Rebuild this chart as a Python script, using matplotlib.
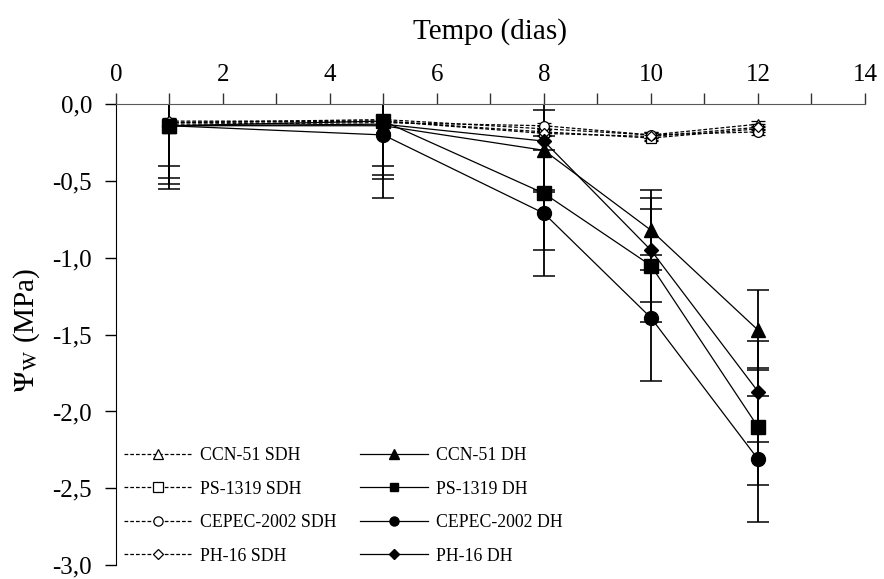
import matplotlib.pyplot as plt
from matplotlib.lines import Line2D
from matplotlib.ticker import MultipleLocator, FuncFormatter

plt.rcParams['font.family'] = ['Liberation Serif', 'DejaVu Serif']
plt.rcParams['mathtext.fontset'] = 'stix'

# Tempo (dias)
dias = [1, 5, 8, 10, 12]

# Potencial hidrico (MPa) - sem deficit hidrico (SDH)
ccn51_sdh = [-0.12, -0.10, -0.16, -0.20, -0.13]
ps1319_sdh = [-0.12, -0.11, -0.18, -0.22, -0.16]
cepec_sdh = [-0.13, -0.12, -0.14, -0.20, -0.18]
ph16_sdh = [-0.11, -0.11, -0.19, -0.21, -0.15]
sdh_err = [0.02, 0.02, 0.02, 0.02, 0.02]

# Potencial hidrico (MPa) - com deficit hidrico (DH)
ccn51_dh = [-0.14, -0.14, -0.30, -0.82, -1.47]
ps1319_dh = [-0.14, -0.11, -0.58, -1.05, -2.10]
cepec_dh = [-0.14, -0.20, -0.71, -1.39, -2.31]
ph16_dh = [-0.14, -0.13, -0.24, -0.95, -1.87]

ccn51_err = [0.26, 0.26, 0.26, 0.26, 0.26]
ps1319_err = [0.38, 0.38, 0.37, 0.37, 0.38]
cepec_err = [0.41, 0.41, 0.41, 0.41, 0.41]
ph16_err = [0.34, 0.33, 0.33, 0.34, 0.33]

fig = plt.figure(figsize=(8.84, 5.79), dpi=100)
ax = fig.add_axes([0.131, 0.024, 0.8475, 0.796])

sdh_dash = (0, (3, 1.6))
leg_handles = {}

# SDH: dashed lines with open markers
sdh = [
    ("CCN-51 SDH", ccn51_sdh, "^", 7),
    ("PS-1319 SDH", ps1319_sdh, "s", 7),
    ("CEPEC-2002 SDH", cepec_sdh, "o", 7),
    ("PH-16 SDH", ph16_sdh, "D", 5.5),
]
for label, vals, mk, ms in sdh:
    eb = ax.errorbar(dias, vals, yerr=sdh_err, color="black", lw=0.9,
                     linestyle=sdh_dash, marker=mk, ms=ms,
                     mfc="white", mec="black", mew=0.9,
                     ecolor="black", elinewidth=0.8, capsize=5, capthick=0.8)
    eb[2][0].set_linestyle("-")
    leg_handles[label] = Line2D([], [], color="black", lw=0.9, linestyle=sdh_dash,
                                marker=mk, ms=ms * 0.95, mfc="white", mec="black",
                                mew=0.9)

# DH: solid lines with filled markers
dh = [
    ("CCN-51 DH", ccn51_dh, ccn51_err, "^", 10),
    ("PS-1319 DH", ps1319_dh, ps1319_err, "s", 9.5),
    ("CEPEC-2002 DH", cepec_dh, cepec_err, "o", 10),
    ("PH-16 DH", ph16_dh, ph16_err, "D", 7.5),
]
for label, vals, err, mk, ms in dh:
    eb = ax.errorbar(dias, vals, yerr=err, color="black", lw=0.9,
                     linestyle="-", marker=mk, ms=ms,
                     mfc="black", mec="black",
                     ecolor="black", elinewidth=1.3, capsize=8, capthick=1.1)
    leg_handles[label] = Line2D([], [], color="black", lw=0.9, linestyle="-",
                                marker=mk, ms=ms * 0.65, mfc="black", mec="black")

ax.set_xlim(0, 14)
ax.set_ylim(-3, 0)

ax.spines["bottom"].set_visible(False)
ax.spines["right"].set_visible(False)
ax.spines["top"].set_color("0.35")

ax.xaxis.tick_top()
ax.xaxis.set_label_position("top")
ax.xaxis.set_major_locator(MultipleLocator(2))
ax.xaxis.set_minor_locator(MultipleLocator(1))
ax.yaxis.set_major_locator(MultipleLocator(0.5))
ax.yaxis.set_major_formatter(FuncFormatter(
    lambda v, p: ("%.1f" % v).replace(".", ",").replace("-0,0", "0,0")))

ax.tick_params(axis="x", which="both", direction="out", length=8, width=1,
               labelsize=18, pad=5, color="0.2")
ax.tick_params(axis="y", which="major", direction="out", length=8, width=1,
               labelsize=18, pad=9)

ax.set_xlabel("Tempo (dias)", fontsize=21, labelpad=18)
fig.text(0.030, 1 - 330 / 579, r"$\Psi_\mathrm{W}$ (MPa)", rotation=90,
         fontsize=21, ha="center", va="center")

sdh_labels = ["CCN-51 SDH", "PS-1319 SDH", "CEPEC-2002 SDH", "PH-16 SDH"]
dh_labels = ["CCN-51 DH", "PS-1319 DH", "CEPEC-2002 DH", "PH-16 DH"]
# legend fills columns first: SDH column, then DH column
col_order = sdh_labels + dh_labels
ax.legend([leg_handles[k] for k in col_order], col_order,
          loc="upper left", bbox_to_anchor=(124 / 884, 1 - 447 / 579),
          bbox_transform=fig.transFigure, ncol=2, frameon=False,
          fontsize=12.8, handlelength=3.8, handletextpad=0.5,
          columnspacing=1.3, labelspacing=0.93, borderpad=0,
          borderaxespad=0)

fig.savefig("out.png", dpi=100)
